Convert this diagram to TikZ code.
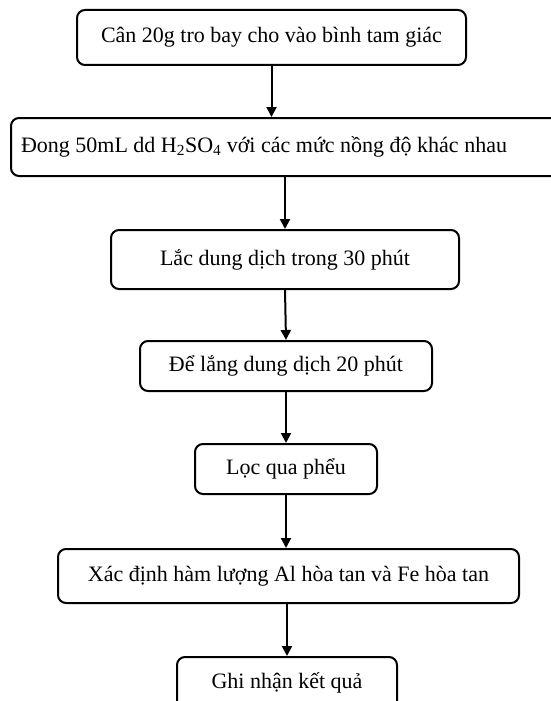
\documentclass[tikz,border=0pt]{standalone}
\usepackage{fontspec}
\setmainfont{Liberation Serif}
\usetikzlibrary{arrows.meta}
\tikzset{
  box/.style={draw, line width=2pt, rounded corners=8pt, inner sep=0pt, align=center,
    font=\fontsize{22}{26}\selectfont},
  arr/.style={line width=2pt, -{Triangle[length=10pt,width=10pt]}}
}
\begin{document}
\begin{tikzpicture}[x=1pt,y=-1pt]
\useasboundingbox (0,0) rectangle (551,701);
\clip (0,0) rectangle (551,701);
\node[box, minimum width=389pt, minimum height=55pt] (b1) at (271.5,37.5) {Cân 20g tro bay cho vào bình tam giác};
\node[box, anchor=west, inner xsep=10pt, minimum height=58pt] (b2) at (10,147) {\makebox[540pt][l]{Đong 50mL dd H\textsubscript{2}SO\textsubscript{4} với các mức nồng độ khác nhau}};
\node[box, minimum width=348pt, minimum height=59pt] (b3) at (285,259.5) {Lắc dung dịch trong 30 phút};
\node[box, minimum width=292pt, minimum height=50pt] (b4) at (286,366) {Để lắng dung dịch 20 phút};
\node[box, minimum width=182pt, minimum height=50pt] (b5) at (286,469) {Lọc qua phểu};
\node[box, minimum width=461pt, minimum height=54pt] (b6) at (288.5,576) {Xác định hàm lượng Al hòa tan và Fe hòa tan};
\node[box, minimum width=220pt, minimum height=52pt] (b7) at (287,683) {Ghi nhận kết quả};
\draw[arr] (b1.south) -- (b1.south |- b2.north);
\draw[arr] (b3.north |- b2.south) -- (b3.north);
\draw[arr] (b3.south) -- (b4.north);
\draw[arr] (b4.south) -- (b5.north);
\draw[arr] (b5.south) -- (b5.south |- b6.north);
\draw[arr] (b7.north |- b6.south) -- (b7.north);
\end{tikzpicture}
\end{document}
